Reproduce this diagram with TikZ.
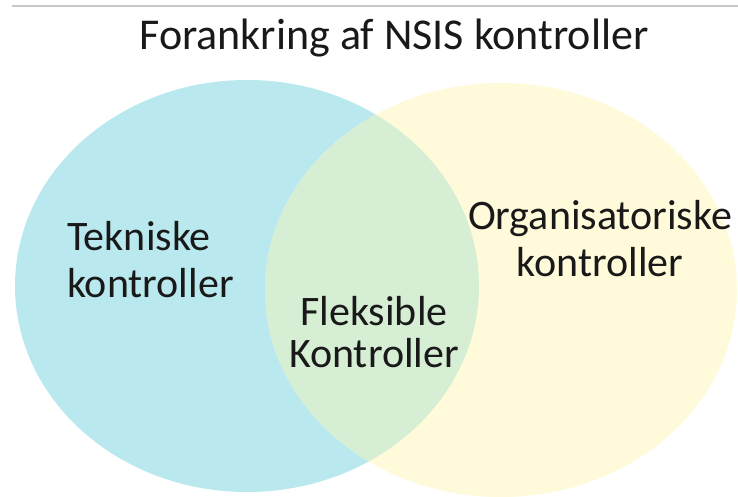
\documentclass[tikz,border=0pt]{standalone}
\usepackage{fontspec}
\setmainfont{Carlito}
\definecolor{tekblue}{RGB}{185,233,238}
\definecolor{orgyellow}{RGB}{254,250,218}
\definecolor{flexgreen}{RGB}{213,238,212}
\tikzset{lbl/.style={font=\fontsize{42}{47}\selectfont, text=black!90, inner sep=0pt}}
\begin{document}
\begin{tikzpicture}[x=1pt,y=-1pt]
  \useasboundingbox (0,0) rectangle (738,497);
  \fill[white] (0,0) rectangle (738,497);
  \draw[black!22, line width=1.5pt] (12,6) -- (738,6);
  % the two sets
  \fill[tekblue] (247,286) ellipse (232pt and 206pt);
  \fill[orgyellow] (501,290) ellipse (236pt and 207pt);
  \begin{scope}
    \clip (247,286) ellipse (232pt and 206pt);
    \fill[flexgreen] (501,290) ellipse (236pt and 207pt);
  \end{scope}
  \node[lbl, font=\fontsize{44}{48}\selectfont] (title) at (394,38) {Forankring af NSIS kontroller};
  \node[lbl, anchor=west, align=left] (tek) at (67,260) {Tekniske\\kontroller};
  \node[lbl, align=center] (org) at (600,239) {Organisatoriske\\kontroller};
  \node[lbl, align=center, font=\fontsize{42}{42}\selectfont] (flex) at (374,332) {Fleksible\\Kontroller};
\end{tikzpicture}
\end{document}
